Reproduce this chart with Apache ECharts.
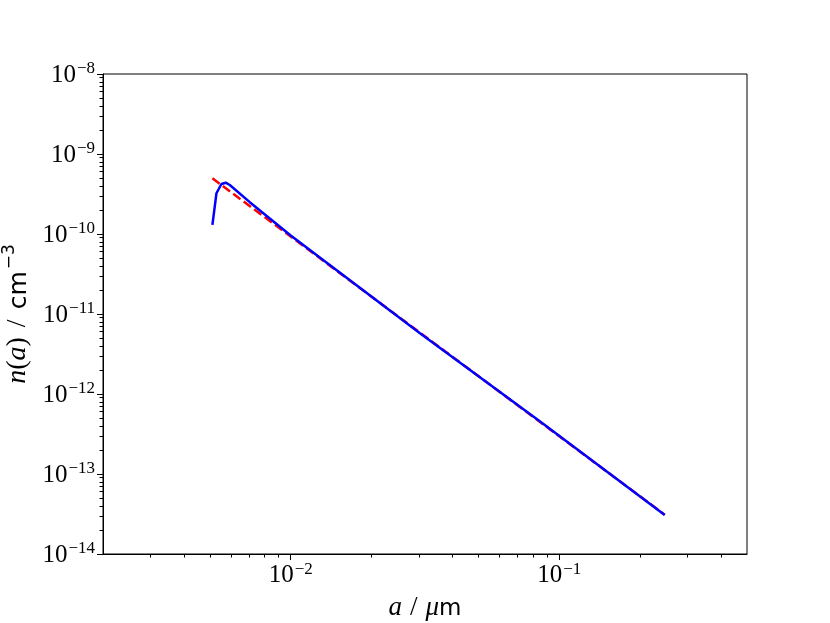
<!DOCTYPE html>
<html><head><meta charset="utf-8">
<script src="https://cdn.jsdelivr.net/npm/echarts@6/dist/echarts.min.js"></script>
<style>html,body{margin:0;padding:0;background:#fff}#c{width:830px;height:623px}</style>
</head><body><div id="c"></div>
<script>
// Data (log-log)
const blueX = [0.00511, 0.00529, 0.00552, 0.00573, 0.00593, 0.00704, 0.0100, 0.01479, 0.0302, 0.0846, 0.247];
const blueY = [1.30e-10, 3.23e-10, 4.22e-10, 4.38e-10, 4.10e-10, 2.50e-10, 9.6e-11, 3.55e-11, 5.80e-12, 4.55e-13, 3.07e-14];
const redX = [0.00511, 0.247];
const redY = [4.97e-10, 3.10e-14];

// Tick positions
const xMajor = [0.01, 0.1];
const xMinor = [0.003, 0.004, 0.005, 0.006, 0.007, 0.008, 0.009,
                0.02, 0.03, 0.04, 0.05, 0.06, 0.07, 0.08, 0.09,
                0.2, 0.3, 0.4];
const yMajor = [1e-14, 1e-13, 1e-12, 1e-11, 1e-10, 1e-9, 1e-8];
const yMinorMult = [2, 3, 4, 5, 6, 7, 8, 9];
const yMinor = [];
yMajor.slice(0, -1).forEach(d => yMinorMult.forEach(k => yMinor.push(k * d)));

const serif = 'Liberation Serif';
const sans = 'DejaVu Sans';
const supFmt = v => '{b|10}{s|\u2212' + Math.abs(Math.round(Math.log10(v))) + '}';
const labelRich = {
  b: {fontFamily: serif, fontSize: 25, color: '#000', verticalAlign: 'bottom'},
  s: {fontFamily: serif, fontSize: 17, color: '#000', verticalAlign: 'bottom', padding: [0, 0, 10, 1]}
};
const xNameRich = {
  i: {fontFamily: serif, fontStyle: 'italic', fontSize: 27, color: '#000', verticalAlign: 'bottom'},
  p: {fontFamily: serif, fontSize: 27, color: '#000', verticalAlign: 'bottom', padding: [0, 8, 0, 8]},
  r: {fontFamily: sans, fontSize: 23, color: '#000', verticalAlign: 'bottom'}
};
const yNameRich = {
  i: {fontFamily: serif, fontStyle: 'italic', fontSize: 28, color: '#000', verticalAlign: 'bottom'},
  q: {fontFamily: serif, fontSize: 28, color: '#000', verticalAlign: 'bottom'},
  p: {fontFamily: serif, fontSize: 28, color: '#000', verticalAlign: 'bottom', padding: [0, 10, 0, 10]},
  r: {fontFamily: sans, fontSize: 25, color: '#000', verticalAlign: 'bottom'},
  rs: {fontFamily: sans, fontSize: 17, color: '#000', verticalAlign: 'bottom', padding: [0, 0, 13, 2]}
};

const chart = echarts.init(document.getElementById('c'));
chart.setOption({
  animation: false,
  backgroundColor: '#fff',
  grid: {left: 103, right: 83, top: 74, bottom: 69, show: true, borderColor: '#000', borderWidth: 1,
         containLabel: false, outerBoundsMode: 'none'},
  xAxis: [
    {type: 'log', logBase: 10, min: 0.002, max: 0.5, position: 'bottom',
     axisLine: {show: true, onZero: false, lineStyle: {color: '#000', width: 1}},
     axisTick: {show: true, customValues: xMajor, length: 6, lineStyle: {color: '#000', width: 1}},
     axisLabel: {show: true, customValues: xMajor, formatter: supFmt, rich: labelRich, margin: 7},
     splitLine: {show: false}, minorTick: {show: false},
     name: '{i|a}{p|/}{i|\u03bc}{r|m}', nameLocation: 'middle', nameGap: 40,
     nameTextStyle: {rich: xNameRich}},
    {type: 'log', logBase: 10, min: 0.002, max: 0.5, position: 'bottom',
     axisLine: {show: false, onZero: false},
     axisTick: {show: true, customValues: xMinor, length: 3.5, lineStyle: {color: '#000', width: 1}},
     axisLabel: {show: false}, splitLine: {show: false}}
  ],
  yAxis: [
    {type: 'log', logBase: 10, min: 1e-14, max: 1e-8, position: 'left',
     axisLine: {show: true, onZero: false, lineStyle: {color: '#000', width: 1}},
     axisTick: {show: true, customValues: yMajor, length: 6, lineStyle: {color: '#000', width: 1}},
     axisLabel: {show: true, customValues: yMajor, formatter: supFmt, rich: labelRich, margin: 8},
     splitLine: {show: false}, minorTick: {show: false},
     name: '{i|n}{q|(}{i|a}{q|)}{p|/}{r|cm}{rs|\u22123}', nameLocation: 'middle', nameGap: 68, nameRotate: 90,
     nameTextStyle: {rich: yNameRich}},
    {type: 'log', logBase: 10, min: 1e-14, max: 1e-8, position: 'left',
     axisLine: {show: false, onZero: false},
     axisTick: {show: true, customValues: yMinor, length: 3.5, lineStyle: {color: '#000', width: 1}},
     axisLabel: {show: false}, splitLine: {show: false}}
  ],
  series: [
    {type: 'line', xAxisIndex: 0, yAxisIndex: 0, z: 2, symbol: 'none',
     data: redX.map((x, i) => [x, redY[i]]),
     lineStyle: {color: '#ff0000', width: 2.5, type: [9, 4]}},
    {type: 'line', xAxisIndex: 0, yAxisIndex: 0, z: 3, symbol: 'none',
     data: blueX.map((x, i) => [x, blueY[i]]),
     lineStyle: {color: '#0000ff', width: 2.5}}
  ]
});
</script></body></html>
